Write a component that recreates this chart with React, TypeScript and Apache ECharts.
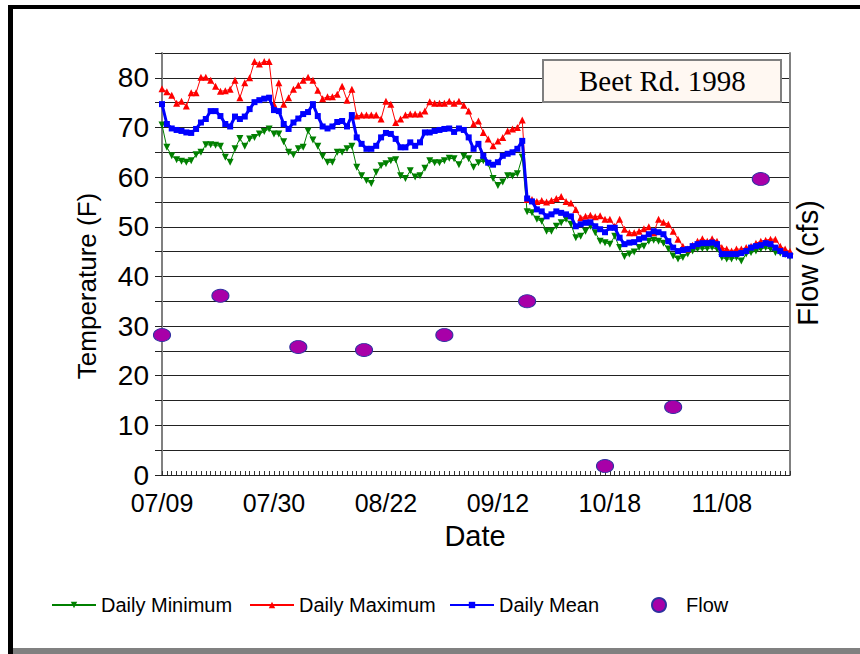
import React, { useEffect, useRef } from "react";
import * as echarts from "echarts";

// x positions are day-index positions along the date axis (one step per reading)
const tickLabels = ["07/09", "07/30", "08/22", "09/12", "10/18", "11/08"];
const labelStep = 23;
const lastIndex = 129;

const dailyMinimum = [
  70.5, 66.0, 64.3, 63.5, 63.2, 63.0, 63.3, 64.5, 65.0, 66.5, 66.5, 66.4, 66.2, 64.0, 63.0, 65.7, 67.8, 66.2, 67.7, 68.0,
  68.7, 69.2, 69.7, 68.7, 68.7, 67.1, 65.0, 64.5, 65.7, 66.0, 69.3, 67.5, 66.2, 64.2, 63.0, 63.0, 65.0, 65.0, 65.7, 66.2,
  62.0, 60.3, 59.3, 58.7, 61.0, 62.3, 62.7, 63.3, 63.5, 60.3, 59.7, 61.3, 60.0, 60.3, 61.8, 63.3, 62.9, 62.9, 63.3, 63.8,
  63.7, 62.5, 64.2, 63.7, 62.0, 62.9, 63.3, 62.7, 59.7, 58.3, 59.0, 60.3, 60.2, 60.7, 64.0, 53.0, 52.8, 51.5, 51.1, 49.1,
  49.1, 50.1, 50.8, 51.5, 50.5, 47.8, 48.1, 49.1, 50.1, 48.8, 47.1, 46.8, 46.5, 48.1, 45.8, 44.0, 44.5, 44.9, 45.8, 46.1,
  47.1, 47.3, 47.1, 46.7, 45.5, 44.1, 43.5, 43.8, 44.5, 45.1, 45.5, 45.6, 45.6, 45.8, 45.5, 43.8, 43.5, 43.5, 43.8, 43.1,
  44.5, 44.8, 45.1, 45.5, 45.8, 45.5, 44.8, 44.7, 44.4, 44.0,
];

const dailyMaximum = [
  77.8, 77.2, 76.5, 74.9, 75.3, 74.3, 77.0, 77.0, 80.1, 80.1, 79.5, 78.3, 77.3, 77.4, 77.7, 79.5, 76.0, 79.0, 80.0, 83.3,
  82.8, 83.3, 83.3, 74.7, 79.0, 74.7, 76.0, 77.7, 78.5, 79.5, 80.1, 79.5, 77.5, 75.8, 76.2, 76.2, 76.7, 78.3, 75.5, 77.7,
  72.3, 72.5, 72.5, 72.5, 72.5, 71.7, 75.3, 74.7, 71.0, 71.7, 72.5, 72.7, 72.7, 72.7, 73.3, 75.2, 74.9, 74.9, 74.9, 75.3,
  74.9, 75.3, 74.5, 73.3, 70.7, 71.3, 69.0, 67.7, 66.3, 67.3, 68.0, 69.3, 69.7, 70.0, 71.5, 55.5, 55.5, 55.1, 55.3, 55.0,
  55.3, 55.7, 56.1, 55.1, 54.8, 53.5, 51.8, 52.1, 52.3, 52.0, 52.2, 51.5, 51.5, 50.1, 51.5, 49.5, 48.8, 48.8, 49.1, 49.6,
  50.0, 48.8, 51.5, 50.9, 50.5, 49.1, 47.5, 46.1, 45.5, 46.3, 47.1, 47.6, 47.1, 47.6, 47.1, 45.8, 45.5, 45.1, 45.5, 45.5,
  45.8, 46.1, 46.7, 47.1, 47.3, 47.5, 47.5, 46.1, 45.5, 45.0,
];

const dailyMean = [
  74.7, 70.7, 69.8, 69.5, 69.3, 69.0, 68.9, 69.7, 71.0, 71.7, 73.3, 73.3, 72.3, 70.7, 70.2, 72.2, 71.7, 72.2, 73.7, 75.1,
  75.5, 75.8, 76.0, 73.5, 73.3, 70.7, 69.7, 71.0, 71.8, 72.7, 73.1, 74.7, 72.3, 70.2, 69.8, 70.2, 71.1, 71.3, 70.2, 72.5,
  68.0, 66.7, 65.7, 65.7, 66.3, 68.0, 68.9, 68.7, 67.7, 66.0, 66.0, 67.0, 66.3, 67.0, 69.0, 69.0, 69.3, 69.5, 69.7, 69.8,
  69.1, 69.8, 69.5, 68.0, 65.7, 66.7, 64.3, 62.9, 62.5, 63.0, 64.3, 64.7, 65.0, 65.7, 67.3, 55.7, 55.1, 53.5, 53.1, 52.1,
  52.5, 53.1, 52.8, 52.5, 52.1, 50.1, 50.5, 50.8, 50.9, 50.1, 49.5, 48.9, 49.8, 49.8, 47.8, 46.5, 46.8, 46.9, 47.5, 47.8,
  48.5, 49.1, 48.9, 48.5, 47.1, 45.8, 45.1, 45.3, 45.5, 46.1, 46.5, 46.7, 46.7, 46.8, 46.5, 44.5, 44.5, 44.5, 44.5, 44.7,
  45.1, 45.8, 46.1, 46.3, 46.7, 46.5, 45.8, 45.1, 44.5, 44.2,
];

const flowDay = [0, 12, 28, 41.5, 58, 75, 91, 105, 123];
const flowCfs = [28.2, 36.1, 25.8, 25.2, 28.2, 35.0, 1.8, 13.7, 59.6];

const SANS = '"Liberation Sans", Arial, sans-serif';
const SERIF = '"Liberation Serif", "Times New Roman", serif';

export default function App() {
  const ref = useRef<HTMLDivElement>(null);

  useEffect(() => {
    if (!ref.current) return;
    const chart = echarts.init(ref.current, undefined, { renderer: "svg" });
    const toPairs = (arr: number[]) => arr.map((v, i) => [i, v]);
    const legendText = { fontSize: 20, color: "#000", fontFamily: SANS };

    chart.setOption({
      animation: false,
      backgroundColor: "#ffffff",
      title: {
        text: "Beet Rd. 1998",
        left: 543,
        top: 60,
        padding: [6, 36, 7, 36],
        backgroundColor: "#FFF8F2",
        borderColor: "#7f7f7f",
        borderWidth: 2,
        textStyle: { fontFamily: SERIF, fontSize: 29, fontWeight: "normal", color: "#000" },
        z: 10,
      },
      grid: { left: 162, right: 70, top: 53, bottom: 179 },
      xAxis: {
        type: "value",
        min: 0,
        max: lastIndex,
        interval: labelStep,
        axisLine: { show: true, onZero: false, lineStyle: { color: "#222", width: 1 } },
        axisTick: { show: true, inside: true, length: 4, lineStyle: { color: "#333" } },
        minorTick: { show: true, splitNumber: labelStep, length: 4, lineStyle: { color: "#333" } },
        splitLine: { show: false },
        axisLabel: {
          showMaxLabel: false,
          fontSize: 25,
          color: "#000",
          fontFamily: SANS,
          margin: 15,
          formatter: (v: number) => {
            const k = v / labelStep;
            return Number.isInteger(k) && tickLabels[k] ? tickLabels[k] : "";
          },
        },
      },
      yAxis: [
        {
          type: "value",
          min: 0,
          max: 85,
          interval: 5,
          position: "left",
          axisLine: { show: true, lineStyle: { color: "#808080", width: 2 } },
          axisTick: { show: true, length: 7, lineStyle: { color: "#222" } },
          splitLine: { show: true, lineStyle: { color: "#222", width: 1 } },
          axisLabel: {
            fontSize: 28,
            color: "#000",
            fontFamily: SANS,
            margin: 13,
            formatter: (v: number) => (v % 10 === 0 ? String(v) : ""),
          },
        },
        {
          type: "value",
          min: 0,
          max: 85,
          position: "right",
          axisLine: { show: true, lineStyle: { color: "#808080", width: 2 } },
          axisTick: { show: false },
          axisLabel: { show: false },
          splitLine: { show: false },
        },
      ],
      legend: [
        { data: ["Daily Minimum"], left: 46, top: 590, itemWidth: 44, itemHeight: 8, textStyle: legendText },
        { data: ["Daily Maximum"], left: 244, top: 590, itemWidth: 44, itemHeight: 8, textStyle: legendText },
        { data: ["Daily Mean"], left: 444, top: 590, itemWidth: 44, itemHeight: 8, textStyle: legendText },
        { data: ["Flow"], left: 646, top: 590, itemWidth: 44, itemHeight: 14, textStyle: legendText },
      ],
      graphic: [
        { type: "rect", shape: { x: 8, y: 5, width: 852, height: 4 }, style: { fill: "#000" } },
        { type: "rect", shape: { x: 8, y: 5, width: 5, height: 649 }, style: { fill: "#000" } },
        { type: "rect", shape: { x: 13, y: 648, width: 847, height: 6 }, style: { fill: "#808080" } },
        {
          type: "text",
          x: 87,
          y: 286,
          rotation: Math.PI / 2,
          style: {
            text: "Temperature (F)",
            font: `26px ${SANS}`,
            fill: "#000",
            textAlign: "center",
            textVerticalAlign: "middle",
            align: "center",
            verticalAlign: "middle",
          },
        },
        {
          type: "text",
          x: 808,
          y: 263,
          rotation: Math.PI / 2,
          style: {
            text: "Flow (cfs)",
            font: `29px ${SANS}`,
            fill: "#000",
            textAlign: "center",
            textVerticalAlign: "middle",
            align: "center",
            verticalAlign: "middle",
          },
        },
        {
          type: "text",
          x: 475,
          y: 536,
          style: {
            text: "Date",
            font: `29px ${SANS}`,
            fill: "#000",
            textAlign: "center",
            textVerticalAlign: "middle",
            align: "center",
            verticalAlign: "middle",
          },
        },
      ],
      series: [
        {
          name: "Daily Minimum",
          type: "line",
          data: toPairs(dailyMinimum),
          symbol: "triangle",
          symbolRotate: 180,
          symbolSize: 7,
          showSymbol: true,
          color: "#008000",
          lineStyle: { color: "#008000", width: 1 },
          itemStyle: { color: "#008000" },
          z: 2,
        },
        {
          name: "Daily Maximum",
          type: "line",
          data: toPairs(dailyMaximum),
          symbol: "triangle",
          symbolSize: 7,
          showSymbol: true,
          color: "#FF0000",
          lineStyle: { color: "#FF0000", width: 1 },
          itemStyle: { color: "#FF0000" },
          z: 3,
        },
        {
          name: "Daily Mean",
          type: "line",
          data: toPairs(dailyMean),
          symbol: "rect",
          symbolSize: 6,
          showSymbol: true,
          color: "#0000FF",
          lineStyle: { color: "#0000FF", width: 3 },
          itemStyle: { color: "#0000FF" },
          z: 4,
        },
        {
          name: "Flow",
          type: "scatter",
          yAxisIndex: 1,
          data: flowDay.map((d, i) => [d, flowCfs[i]]),
          symbol: "circle",
          symbolSize: [17, 13],
          color: "#A800A8",
          itemStyle: { color: "#A800A8", borderColor: "#3030A0", borderWidth: 1, opacity: 1 },
          z: 5,
        },
      ],
    });

    return () => chart.dispose();
  }, []);

  return (
    <div
      ref={ref}
      style={{ position: "absolute", left: 0, top: 0, width: 860, height: 654 }}
    />
  );
}
